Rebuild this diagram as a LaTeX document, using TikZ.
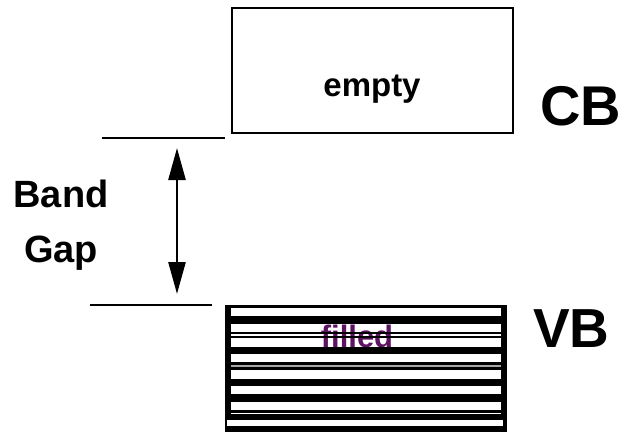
\documentclass[tikz,border=0pt]{standalone}
\usepackage{fontspec}
\setmainfont{Liberation Sans}
\usetikzlibrary{arrows.meta}
\definecolor{fillpurple}{RGB}{92,20,96}
\tikzset{
  lbl/.style={inner sep=0pt, anchor=base, font=\bfseries},
  level/.style={line width=2.4pt},
  bandbox/.style={draw, line width=2.4pt, inner sep=0pt},
  bar/.style={fill=black, draw=none},
  gaparrow/.style={line width=2.6pt,
    {Triangle[length=32pt,width=17pt]}-{Triangle[length=32pt,width=17pt]}}
}
\begin{document}
\begin{tikzpicture}[x=1pt,y=-1pt]
\useasboundingbox (0,0) rectangle (626,433);

% conduction band (empty)
\node[bandbox, minimum width=281pt, minimum height=125pt] (cb) at (372.5,70.5) {};
\node[lbl, font=\bfseries\fontsize{33}{36}\selectfont] (empty) at (372,97) {empty};
\node[lbl, anchor=base west, font=\bfseries\fontsize{56}{60}\selectfont] (cblabel) at (540,125) {CB};

% valence band (filled, striped)
\node[fill=white, inner sep=0pt, minimum width=282pt, minimum height=127pt] (vb) at (366,368.5) {};
\node[lbl, text=fillpurple, font=\bfseries\fontsize{31}{34}\selectfont] (filled) at (357,347) {filled};
\foreach \ya/\yb in {305/307.5, 316/324, 332/334, 335.5/338, 347/354, 362/365,
                     367/370, 379/386, 394/402, 410/413, 414/420, 426/432}
  \fill[bar] (225,\ya) rectangle (507,\yb);
\fill[gray!70] (231,365) rectangle (501,367);
\fill[bar] (225,305) rectangle (231,420);
\fill[bar] (501,305) rectangle (507,420);
\fill[bar] (225,420) rectangle (227,426);
\fill[bar] (503,420) rectangle (507,426);
\node[lbl, anchor=base west, font=\bfseries\fontsize{55}{60}\selectfont] (vblabel) at (533,347) {VB};

% band edges and the gap between them
\coordinate (topL) at (102,138);
\coordinate (topR) at (225,138);
\coordinate (botL) at (90,305);
\coordinate (botR) at (212,305);
\draw[level] (topL) -- (topR);
\draw[level] (botL) -- (botR);
\coordinate (gapTop) at (177,148);
\coordinate (gapBot) at (177,294);
\draw[gaparrow] (gapTop) -- (gapBot);

\node[lbl, font=\bfseries\fontsize{38}{40}\selectfont] (band) at (61,207) {Band};
\node[lbl, font=\bfseries\fontsize{38}{40}\selectfont] (gap) at (61,262) {Gap};
\end{tikzpicture}
\end{document}
